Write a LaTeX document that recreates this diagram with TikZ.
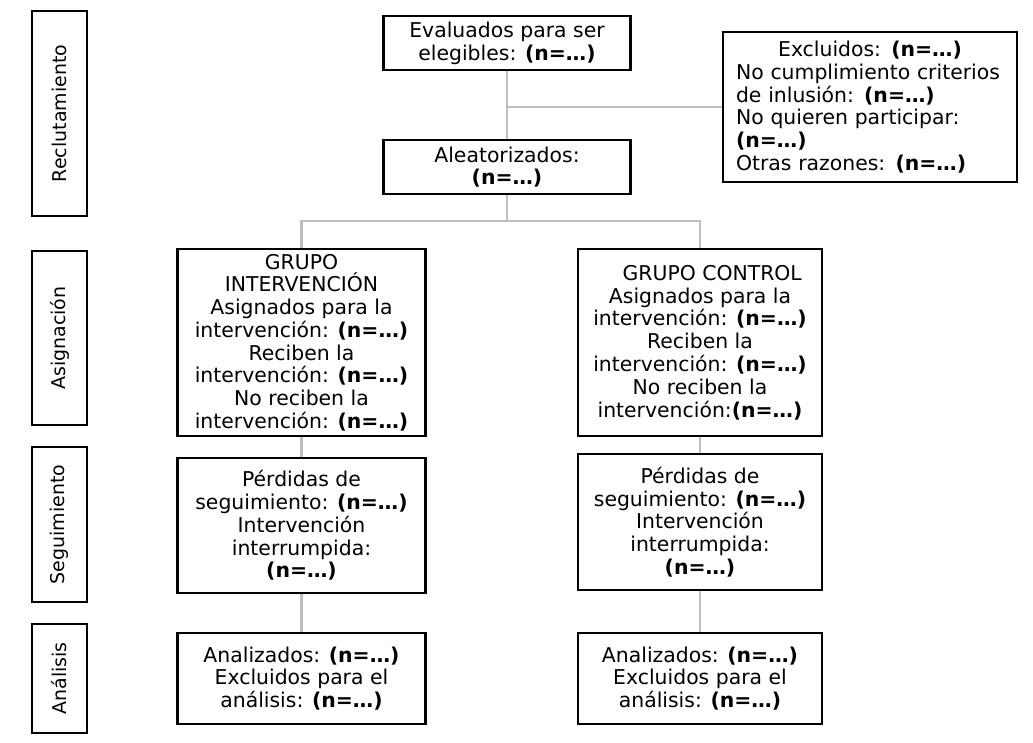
\documentclass[tikz,border=0pt]{standalone}
\usepackage{fontspec}
\setmainfont{DejaVu Sans}
\usetikzlibrary{positioning}
\tikzset{
caja/.style={draw=black,line width=2pt,align=center,inner sep=2pt,font=\fontsize{14.5}{16.2}\selectfont},
etapa/.style={draw=black,line width=1.2pt,rotate=90,inner sep=0pt,minimum height=1.375cm,font=\fontsize{13.5}{16}\selectfont},
enlace/.style={draw=black!25,line width=2pt}
}
\newcommand{\nn}{\textbf{(n=…)}}

\begin{document}
\begin{tikzpicture}
\useasboundingbox (0,0) rectangle (25.825,18.55);
\node[etapa,minimum width=5.125cm] (rec) at (1.4875,15.7125) {Reclutamiento};
\node[etapa,minimum width=4.35cm] (asig) at (1.4875,10.1) {Asignación};
\node[etapa,minimum width=3.875cm] (seg) at (1.4875,5.4375) {Seguimiento};
\node[etapa,minimum width=2.725cm] (anal) at (1.4875,1.5875) {Análisis};

\node[caja,minimum width=6.175cm,minimum height=1.35cm] (eval) at (12.675,17.475) {Evaluados para ser\\elegibles: \nn};
\node[caja,minimum width=6.175cm,minimum height=1.35cm] (alea) at (12.675,14.375) {Aleatorizados:\\\nn};
\node[caja,minimum width=7.35cm,minimum height=3.75cm,text width=6.7cm,align=left] (excl) at (21.75,15.875)
{{\centering Excluidos: \nn\par}No cumplimiento criterios\\de inlusión: \nn\\No quieren participar:\\\nn\\Otras razones: \nn};

\node[caja,minimum width=6.2cm,minimum height=4.675cm] (gint) at (7.5375,9.9875)
{GRUPO\\INTERVENCIÓN\\Asignados para la\\intervención: \nn\\Reciben la\\intervención: \nn\\No reciben la\\intervención: \nn};
\node[caja,minimum width=6.1cm,minimum height=4.675cm] (gctl) at (17.5,9.9875)
{\hspace*{1.2em}GRUPO CONTROL\\Asignados para la\\intervención: \nn\\Reciben la\\intervención: \nn\\No reciben la\\intervención:\nn};
\node[caja,minimum width=6.2cm,minimum height=3.375cm] (sint) at (7.5375,5.4125)
{Pérdidas de\\seguimiento: \nn\\Intervención\\interrumpida:\\\nn};
\node[caja,minimum width=6.1cm,minimum height=3.4cm] (sctl) at (17.5,5.5)
{Pérdidas de\\seguimiento: \nn\\Intervención\\interrumpida:\\\nn};
\node[caja,minimum width=6.2cm,minimum height=2.275cm] (aint) at (7.5375,1.5875)
{Analizados: \nn\\Excluidos para el\\análisis: \nn};
\node[caja,minimum width=6.1cm,minimum height=2.275cm] (actl) at (17.5,1.5875)
{Analizados: \nn\\Excluidos para el\\análisis: \nn};

\coordinate (rama) at (12.675,13.025);
\draw[enlace] (eval) -- (alea);
\draw[enlace] (eval.south |- excl.west) -- (excl.west);
\draw[enlace] (alea) -- (rama);
\draw[enlace] (gint.north) |- (rama) -| (gctl.north);
\draw[enlace] (gint) -- (sint);
\draw[enlace] (sint) -- (aint);
\draw[enlace] (gctl) -- (sctl);
\draw[enlace] (sctl) -- (actl);
\end{tikzpicture}
\end{document}
